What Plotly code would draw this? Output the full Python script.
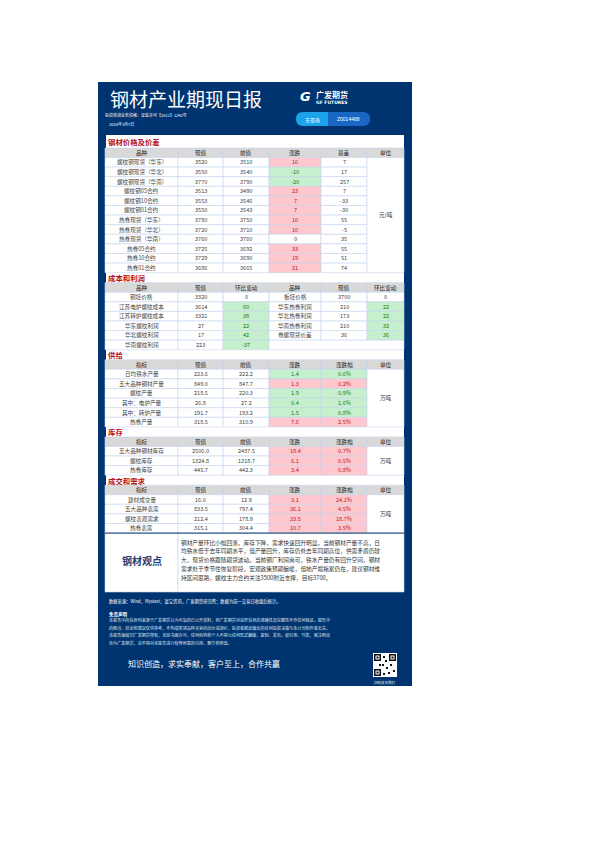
import plotly.graph_objects as go

FONT = "Noto Sans CJK SC"
NAVY = "#003470"
RED_T = "#b3121b"
GRID = "#c5d3ec"
HEAD = "#d9d9d9"
PINK, PINK_T = "#ffc7ce", "#c0141c"
GREEN, GREEN_T = "#c6efce", "#127a22"

# ---------------- data ----------------
title = "钢材产业期现日报"
sec1_title = "钢材价格及价差"
sec1_head = ["品种", "现值", "前值", "涨跌", "基差", "单位"]
sec1_names = ["螺纹钢现货（华东）", "螺纹钢现货（华北）", "螺纹钢现货（华南）", "螺纹钢05合约", "螺纹钢10合约",
              "螺纹钢01合约", "热卷现货（华东）", "热卷现货（华北）", "热卷现货（华南）", "热卷05合约",
              "热卷10合约", "热卷01合约"]
sec1_now = [3520, 3550, 3770, 3513, 3553, 3550, 3780, 3720, 3760, 3725, 3729, 3686]
sec1_prev = [3510, 3540, 3790, 3490, 3546, 3543, 3750, 3710, 3760, 3692, 3690, 3665]
sec1_chg = [10, -10, -20, 23, 7, 7, 10, 10, 0, 33, 19, 21]
sec1_basis = [7, 17, 257, 7, -33, -30, 55, -5, 35, 55, 51, 74]
sec1_unit = "元/吨"

sec2_title = "成本和利润"
sec2_head = ["品种", "现值", "环比变动", "品种", "现值", "环比变动"]
sec2_l_names = ["钢坯价格", "江苏电炉螺纹成本", "江苏转炉螺纹成本", "华东螺纹利润", "华北螺纹利润", "华南螺纹利润"]
sec2_l_now = [3320, 3614, 3321, 27, 17, 223]
sec2_l_chg = [0, 60, 38, 22, 42, -37]
sec2_r_names = ["板坯价格", "华东热卷利润", "华北热卷利润", "华南热卷利润", "卷螺现货价差"]
sec2_r_now = [3700, 210, 173, 210, 36]
sec2_r_chg = [0, 22, 22, 32, 36]

sec3_title = "供给"
sec3_head = ["指标", "现值", "前值", "涨跌", "涨跌幅", "单位"]
sec3_names = ["日均铁水产量", "五大品种钢材产量", "螺纹产量", "其中：电炉产量", "其中：转炉产量", "热卷产量"]
sec3_now = ["223.6", "849.0", "218.5", "26.8", "191.7", "318.5"]
sec3_prev = ["222.2", "847.7", "220.3", "27.2", "193.2", "310.9"]
sec3_chg = ["1.4", "1.3", "1.9", "0.4", "1.5", "7.6"]
sec3_pct = ["0.6%", "0.2%", "0.9%", "1.6%", "0.8%", "2.5%"]
sec3_up = [False, True, False, False, False, True]
sec3_unit = "万吨"

sec4_title = "库存"
sec4_names = ["五大品种钢材库存", "螺纹库存", "热卷库存"]
sec4_now = ["2506.0", "1324.8", "445.7"]
sec4_prev = ["2487.5", "1318.7", "442.3"]
sec4_chg = ["18.4", "6.1", "3.4"]
sec4_pct = ["0.7%", "0.5%", "0.8%"]
sec4_up = [True, True, True]
sec4_unit = "万吨"

sec5_title = "成交和需求"
sec5_names = ["建材成交量", "五大品种表需", "螺纹表观需求", "热卷表需"]
sec5_now = ["16.0", "833.5", "212.4", "315.1"]
sec5_prev = ["12.9", "797.4", "178.9", "304.4"]
sec5_chg = ["3.1", "36.1", "33.5", "10.7"]
sec5_pct = ["24.1%", "4.5%", "18.7%", "3.5%"]
sec5_up = [True, True, True, True]
sec5_unit = "万吨"

view_label = "钢材观点"
view_lines = ["钢材产量环比小幅回落，库存下降，需求快速回升明显。当前钢材产量不高，日",
              "均铁水低于去年同期水平，但产量回升，库存仍处去年同期高位，供需矛盾仍较",
              "大，现货价格跟随期货波动。当前钢厂利润尚可，铁水产量仍有回升空间，钢材",
              "需求处于季节性恢复阶段，宏观政策预期偏暖，但地产端拖累仍在，建议钢材维",
              "持区间思路，螺纹主力合约关注3500附近支撑，目标3700。"]

# ---------------- drawing helpers ----------------
shapes, annos = [], []

def rect(x0, y0, x1, y1, fill, line=None, lw=0.6):
    shapes.append(dict(type="rect", xref="x", yref="y", x0=x0, y0=y0, x1=x1, y1=y1,
                       fillcolor=fill, line=dict(color=line or fill, width=lw if line else 0), layer="below"))

def text(x, y, s, size=5.6, color="#333333", anchor="center", bold=False, family=FONT):
    if bold:
        s = "<b>" + s + "</b>"
    annos.append(dict(x=x, y=y, xref="x", yref="y", text=s, showarrow=False, xanchor=anchor,
                      yanchor="middle", font=dict(size=size, color=color, family=family), borderpad=0))

COLS = [97, 170, 215, 261, 313, 359, 396]
RH = 9.6

def section_title(y, s):
    text(99, y, s, size=7.4, color=RED_T, anchor="left", bold=True)

def header(y0, labels):
    for i, lab in enumerate(labels):
        rect(COLS[i], y0, COLS[i + 1], y0 + 9.5, HEAD, GRID)
        text((COLS[i] + COLS[i + 1]) / 2, y0 + 4.9, lab, size=5.6, color="#222222")
    return y0 + 9.5

def cell(ci, y0, s, fill="white", color="#444444"):
    rect(COLS[ci], y0, COLS[ci + 1], y0 + RH, fill, GRID)
    text((COLS[ci] + COLS[ci + 1]) / 2, y0 + RH / 2, s, color=color)

def colored(ci, y0, s, up):
    if up is None:
        cell(ci, y0, s)
    elif up:
        cell(ci, y0, s, PINK, PINK_T)
    else:
        cell(ci, y0, s, GREEN, GREEN_T)

def unit_cell(y0, n, s):
    rect(COLS[5], y0, COLS[6], y0 + n * RH, "white", GRID)
    text((COLS[5] + COLS[6]) / 2, y0 + n * RH / 2, s)

# ---------------- background ----------------
rect(90, 74, 404, 678, NAVY)
rect(98, 127, 396, 584, "white")

text(101, 90, title, size=19, color="white", anchor="left")
text(96, 106.5, "投资咨询业务资格：证监许可【2011】1292号", size=4, color="white", anchor="left")
text(100, 115.5, "2024年3月7日", size=4, color="white", anchor="left")
text(297, 88, "<b><i>G</i></b>", size=13, color="white", anchor="center", family="DejaVu Sans")
text(307, 86, "广发期货", size=8, color="white", anchor="left", bold=True)
text(307, 94, "GF FUTURES", size=4.5, color="white", anchor="left", bold=True, family="DejaVu Sans")
shapes.append(dict(type="path", xref="x", yref="y",
                   path="M 295 104 L 320 104 L 320 118 L 295 118 Q 288 118 288 111 Q 288 104 295 104 Z",
                   fillcolor="#1aa3e8", line=dict(width=0), layer="below"))
shapes.append(dict(type="path", xref="x", yref="y",
                   path="M 320 104 L 355 104 Q 362 104 362 111 Q 362 118 355 118 L 320 118 Z",
                   fillcolor="#1a66c4", line=dict(width=0), layer="below"))
text(304, 111, "王亚南", size=5, color="white")
text(340, 111, "Z0014488", size=5, color="white", family="Liberation Sans")

# ---------------- section 1 ----------------
section_title(133, sec1_title)
y = header(140, sec1_head)
y1 = y
for i in range(len(sec1_names)):
    cell(0, y, sec1_names[i])
    cell(1, y, str(sec1_now[i]))
    cell(2, y, str(sec1_prev[i]))
    v = sec1_chg[i]
    colored(3, y, str(v), None if v == 0 else v > 0)
    cell(4, y, str(sec1_basis[i]))
    y += RH
unit_cell(y1, len(sec1_names), sec1_unit)

# ---------------- section 2 ----------------
section_title(y + 5, sec2_title)
y = header(y + 10, sec2_head)
for i in range(len(sec2_l_names)):
    cell(0, y, sec2_l_names[i])
    cell(1, y, str(sec2_l_now[i]))
    v = sec2_l_chg[i]
    colored(2, y, str(v), None if v == 0 else False)
    if i < len(sec2_r_names):
        cell(3, y, sec2_r_names[i])
        cell(4, y, str(sec2_r_now[i]))
        v = sec2_r_chg[i]
        colored(5, y, str(v), None if v == 0 else False)
    else:
        rect(COLS[3], y, COLS[6], y + RH, "white", GRID)
    y += RH

# ---------------- sections 3-5 ----------------
def block(y, t, names, now, prev, chg, pct, up, unit):
    section_title(y + 5, t)
    y = header(y + 10, sec3_head)
    y0 = y
    for i in range(len(names)):
        cell(0, y, names[i]); cell(1, y, now[i]); cell(2, y, prev[i])
        colored(3, y, chg[i], up[i]); colored(4, y, pct[i], up[i])
        y += RH
    unit_cell(y0, len(names), unit)
    return y

y = block(y, sec3_title, sec3_names, sec3_now, sec3_prev, sec3_chg, sec3_pct, sec3_up, sec3_unit)
y = block(y, sec4_title, sec4_names, sec4_now, sec4_prev, sec4_chg, sec4_pct, sec4_up, sec4_unit)
y = block(y, sec5_title, sec5_names, sec5_now, sec5_prev, sec5_chg, sec5_pct, sec5_up, sec5_unit)

# ---------------- viewpoint ----------------
rect(97, y, 170, 584, "white", GRID)
rect(170, y, 396, 584, "white", GRID)
shapes.append(dict(type="line", xref="x", yref="y", x0=97, x1=396, y0=y, y1=y, line=dict(color=NAVY, width=1)))
text(133.5, 552, view_label, size=10, color="#1f3f73", bold=True)
for k, ln in enumerate(view_lines):
    text(172, 534 + k * 8.8, ln, size=5.7, color="#333333", anchor="left")

# ---------------- footer ----------------
text(100, 593, "数据来源：Wind、Mysteel、富宝资讯，广发期货研究所；数据为前一交易日收盘后统计。", size=4.3, color="white", anchor="left")
text(100, 606, "免责声明", size=4.5, color="white", anchor="left", bold=True)
disc = ["本报告中的信息均来源于广发期货认为可靠的已公开资料，但广发期货对这些信息的准确性及完整性不作任何保证。报告中",
        "的观点、结论和建议仅供参考，不构成所述品种买卖的出价或询价，投资者据此做出的任何投资决策与本公司和作者无关。",
        "本报告版权归广发期货所有，未经书面许可，任何机构和个人不得以任何形式翻版、复制、发布。如引用、刊发，需注明出",
        "处为广发期货，且不得对本报告进行有悖原意的引用、删节和修改。"]
for k, ln in enumerate(disc):
    text(100, 612 + k * 7.6, ln, size=4.1, color="#dfe6f2", anchor="left")
text(119, 655, "知识创造，求实奉献，客户至上，合作共赢", size=8, color="white", anchor="left")
rect(365, 645, 389, 669, "white")
for (qx, qy) in [(366, 646), (381, 646), (366, 661)]:
    rect(qx, qy, qx + 7, qy + 7, "#111111")
    rect(qx + 1.5, qy + 1.5, qx + 5.5, qy + 5.5, "white")
    rect(qx + 2.5, qy + 2.5, qx + 4.5, qy + 4.5, "#111111")
for (qx, qy) in [(375, 648), (377, 652), (374, 656), (378, 659), (382, 656), (385, 662), (380, 664), (375, 665), (371, 656)]:
    rect(qx, qy, qx + 2, qy + 2, "#111111")
text(377, 674, "扫码关注我们", size=3.5, color="white")

fig = go.Figure()
fig.add_trace(go.Scatter(x=[0, 595], y=[0, 842], mode="markers", marker=dict(opacity=0), hoverinfo="skip"))
fig.update_layout(width=595, height=842, margin=dict(l=0, r=0, t=0, b=0), paper_bgcolor="white",
                  plot_bgcolor="white", showlegend=False, shapes=shapes, annotations=annos,
                  xaxis=dict(range=[0, 595], visible=False, fixedrange=True),
                  yaxis=dict(range=[842, 0], visible=False, fixedrange=True))
fig.write_html("out.html")
